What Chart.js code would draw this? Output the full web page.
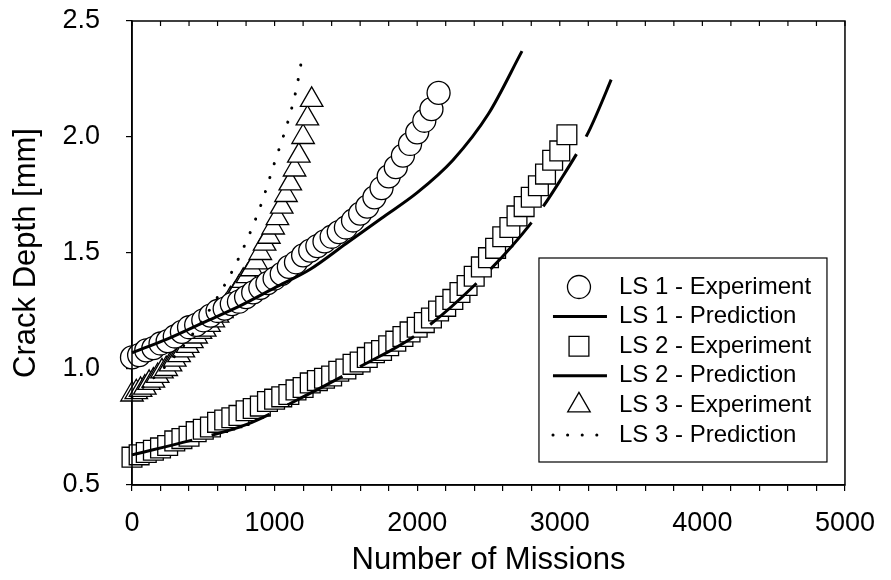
<!DOCTYPE html>
<html>
<head>
<meta charset="utf-8">
<script src="https://cdn.jsdelivr.net/npm/chart.js@4.4.1/dist/chart.umd.min.js"></script>
<style>
  body { margin: 0; background: #fff; }
  canvas { display: block; }
</style>
</head>
<body>
<canvas id="crackChart" width="891" height="580"></canvas>
<script>
// values (missions, crack depth in mm)
const ls1ExpMissions = [0, 50, 100, 150, 200, 250, 300, 350, 400, 450, 500, 550, 600, 650, 700, 750, 800, 850, 900, 950,
    1000, 1050, 1100, 1150, 1200, 1250, 1300, 1350, 1400, 1450, 1500, 1550, 1600, 1650, 1700, 1750, 1800, 1850, 1900, 1950,
    2000, 2050, 2100, 2150];
const ls1ExpDepth = [1.05, 1.06, 1.08, 1.09, 1.11, 1.12, 1.14, 1.16, 1.18, 1.19, 1.21, 1.23, 1.25, 1.26, 1.28, 1.29, 1.31, 1.33, 1.35, 1.37,
    1.39, 1.41, 1.44, 1.46, 1.49, 1.51, 1.53, 1.55, 1.57, 1.59, 1.61, 1.64, 1.67, 1.70, 1.74, 1.78, 1.83, 1.87, 1.92, 1.97,
    2.02, 2.07, 2.12, 2.19];

const ls1PredMissions = [0, 250, 500, 750, 1000, 1250, 1500, 1750, 2000, 2250, 2500, 2735];
const ls1PredDepth = [1.07, 1.13, 1.20, 1.27, 1.35, 1.43, 1.54, 1.65, 1.76, 1.90, 2.10, 2.37];

const ls2ExpMissions = [0, 50, 100, 150, 200, 250, 300, 350, 400, 450, 500, 550, 600, 650, 700, 750, 800, 850, 900, 950,
    1000, 1050, 1100, 1150, 1200, 1250, 1300, 1350, 1400, 1450, 1500, 1550, 1600, 1650, 1700, 1750, 1800, 1850, 1900, 1950,
    2000, 2050, 2100, 2150, 2200, 2250, 2300, 2350, 2400, 2450, 2500, 2550, 2600, 2650, 2700, 2750, 2800, 2850, 2900, 2950,
    3000, 3050];
const ls2ExpDepth = [0.62, 0.63, 0.64, 0.65, 0.66, 0.67, 0.69, 0.70, 0.71, 0.73, 0.74, 0.75, 0.77, 0.78, 0.79, 0.80, 0.82, 0.83, 0.84, 0.86,
    0.87, 0.88, 0.89, 0.91, 0.92, 0.94, 0.95, 0.96, 0.97, 0.99, 1.00, 1.02, 1.03, 1.05, 1.07, 1.08, 1.10, 1.12, 1.14, 1.16,
    1.18, 1.20, 1.22, 1.25, 1.27, 1.30, 1.33, 1.36, 1.40, 1.44, 1.48, 1.52, 1.57, 1.61, 1.66, 1.70, 1.74, 1.79, 1.84, 1.90,
    1.94, 2.01];

const ls2PredMissions = [0, 400, 800, 1200, 1600, 2000, 2400, 2800, 3000, 3200, 3390];
const ls2PredDepth = [0.63, 0.69, 0.76, 0.88, 1.01, 1.15, 1.36, 1.63, 1.81, 2.02, 2.29];

const ls3ExpMissions = [0, 30, 60, 90, 120, 150, 180, 210, 240, 270, 300, 330, 360, 390, 420, 450, 480, 510, 540, 570,
    600, 630, 660, 690, 720, 750, 780, 810, 840, 870, 900, 930, 960, 990, 1020, 1050, 1080, 1110, 1140, 1170,
    1200, 1230, 1260];
const ls3ExpDepth = [0.89, 0.90, 0.91, 0.92, 0.94, 0.95, 0.97, 0.99, 1.00, 1.02, 1.04, 1.06, 1.08, 1.10, 1.12, 1.14, 1.16, 1.17, 1.19, 1.21,
    1.23, 1.25, 1.27, 1.30, 1.32, 1.35, 1.38, 1.40, 1.43, 1.46, 1.50, 1.54, 1.57, 1.61, 1.65, 1.70, 1.75, 1.80, 1.86, 1.92,
    2.00, 2.08, 2.16];

const ls3PredMissions = [0, 200, 400, 600, 750, 900, 1000, 1100, 1150, 1195];
const ls3PredDepth = [0.88, 0.99, 1.13, 1.31, 1.48, 1.70, 1.89, 2.08, 2.20, 2.35];

const seriesLabels = ['LS 1 - Experiment', 'LS 1 - Prediction', 'LS 2 - Experiment',
    'LS 2 - Prediction', 'LS 3 - Experiment', 'LS 3 - Prediction'];

const FONT = "'Liberation Sans', Arial, Helvetica, sans-serif";

function toPoints(xs, ys) {
    return xs.map((x, i) => ({ x: x, y: ys[i] }));
}

function markerSet(label, xs, ys, style, radius) {
    return {
        label: label,
        data: toPoints(xs, ys),
        showLine: false,
        pointStyle: style,
        pointRadius: radius,
        pointBackgroundColor: '#fff',
        pointBorderColor: '#000',
        pointBorderWidth: 1.3,
        clip: false,
        order: 1
    };
}

function lineSet(label, xs, ys, dash, width) {
    return {
        label: label,
        data: toPoints(xs, ys),
        showLine: true,
        borderColor: '#000',
        borderWidth: width,
        borderDash: dash,
        borderCapStyle: dash.length && dash[0] < 1 ? 'round' : 'butt',
        cubicInterpolationMode: 'monotone',
        pointRadius: 0,
        fill: false,
        clip: false,
        order: 0
    };
}

// frame, inward top ticks and the boxed legend inside the plot
const frameAndLegend = {
    id: 'frameAndLegend',
    afterDatasetsDraw(chart) {
        const ctx = chart.ctx;
        const a = chart.chartArea;
        const xs = chart.scales.x;
        ctx.save();
        ctx.strokeStyle = '#000';
        ctx.lineWidth = 1.5;
        ctx.strokeRect(a.left, a.top, a.right - a.left, a.bottom - a.top);
        ctx.lineWidth = 1.2;
        xs.ticks.forEach(t => {
            const px = xs.getPixelForValue(t.value);
            ctx.beginPath();
            ctx.moveTo(px, a.top);
            ctx.lineTo(px, a.top + 5);
            ctx.stroke();
        });

        const left = a.right - 306, top = a.top + 237, w = 288, h = 204;
        ctx.fillStyle = '#fff';
        ctx.fillRect(left, top, w, h);
        ctx.lineWidth = 1.2;
        ctx.strokeRect(left, top, w, h);
        ctx.font = '24px ' + FONT;
        ctx.textBaseline = 'middle';
        ctx.textAlign = 'left';
        chart.data.datasets.forEach((ds, i) => {
            const y = top + 29 + i * 29.6;
            const cx = left + 40;
            ctx.save();
            if (ds.showLine === false) {
                ctx.fillStyle = '#fff';
                ctx.strokeStyle = '#000';
                ctx.lineWidth = 1.3;
                Chart.helpers.drawPoint(ctx, {
                    pointStyle: ds.pointStyle,
                    radius: ds.pointRadius,
                    borderWidth: 1.3,
                    rotation: 0
                }, cx, y);
            } else {
                ctx.strokeStyle = '#000';
                ctx.lineWidth = ds.borderWidth;
                ctx.lineCap = ds.borderCapStyle;
                if (ds.borderDash[0] < 1) ctx.setLineDash([0.1, 14.5]);
                ctx.beginPath();
                ctx.moveTo(cx - 26, y);
                ctx.lineTo(cx + 28, y);
                ctx.stroke();
            }
            ctx.restore();
            ctx.fillStyle = '#000';
            ctx.fillText(seriesLabels[i], left + 80, y);
        });
        ctx.restore();
    }
};

function createChart() {
    Chart.defaults.font.family = FONT;
    Chart.defaults.color = '#000';
    const ctx = document.getElementById('crackChart').getContext('2d');

    new Chart(ctx, {
        type: 'scatter',
        data: {
            datasets: [
                markerSet(seriesLabels[0], ls1ExpMissions, ls1ExpDepth, 'circle', 11.5),
                lineSet(seriesLabels[1], ls1PredMissions, ls1PredDepth, [], 3),
                markerSet(seriesLabels[2], ls2ExpMissions, ls2ExpDepth, 'rect', 14),
                lineSet(seriesLabels[3], ls2PredMissions, ls2PredDepth, [62, 20], 3),
                markerSet(seriesLabels[4], ls3ExpMissions, ls3ExpDepth, 'triangle', 13),
                lineSet(seriesLabels[5], ls3PredMissions, ls3PredDepth, [0.1, 14.5], 3)
            ]
        },
        options: {
            responsive: false,
            animation: false,
            devicePixelRatio: 1,
            layout: {
                autoPadding: false,
                padding: { top: 21, right: 43, bottom: 0, left: 0 }
            },
            scales: {
                x: {
                    type: 'linear',
                    min: 0,
                    max: 5000,
                    afterFit: (scale) => { scale.height = 95; },
                    ticks: {
                        stepSize: 200,
                        autoSkip: false,
                        maxRotation: 0,
                        padding: 16,
                        font: { size: 27 },
                        callback: (v) => (v % 1000 === 0 ? String(v) : '')
                    },
                    grid: {
                        drawOnChartArea: false,
                        drawTicks: true,
                        tickLength: 6,
                        color: '#000',
                        lineWidth: 1.2
                    },
                    border: { display: true, color: '#000', width: 1.5 },
                    title: {
                        display: true,
                        text: 'Number of Missions',
                        font: { size: 31 },
                        padding: { top: 0, bottom: 1 }
                    }
                },
                y: {
                    type: 'linear',
                    min: 0.5,
                    max: 2.5,
                    afterFit: (scale) => {
                        scale.width = 132;
                        scale.paddingTop = 0;
                        scale.paddingBottom = 0;
                    },
                    ticks: {
                        stepSize: 0.5,
                        padding: 26,
                        font: { size: 27 },
                        callback: (v) => v.toFixed(1)
                    },
                    grid: {
                        drawOnChartArea: false,
                        drawTicks: true,
                        tickLength: 6,
                        color: '#000',
                        lineWidth: 1.2
                    },
                    border: { display: true, color: '#000', width: 1.5 },
                    title: {
                        display: true,
                        text: 'Crack Depth [mm]',
                        font: { size: 31 },
                        padding: { top: 8, bottom: 0 }
                    }
                }
            },
            plugins: {
                legend: { display: false },
                tooltip: { enabled: false }
            }
        },
        plugins: [frameAndLegend]
    });
}

document.addEventListener('DOMContentLoaded', createChart);
</script>
</body>
</html>
